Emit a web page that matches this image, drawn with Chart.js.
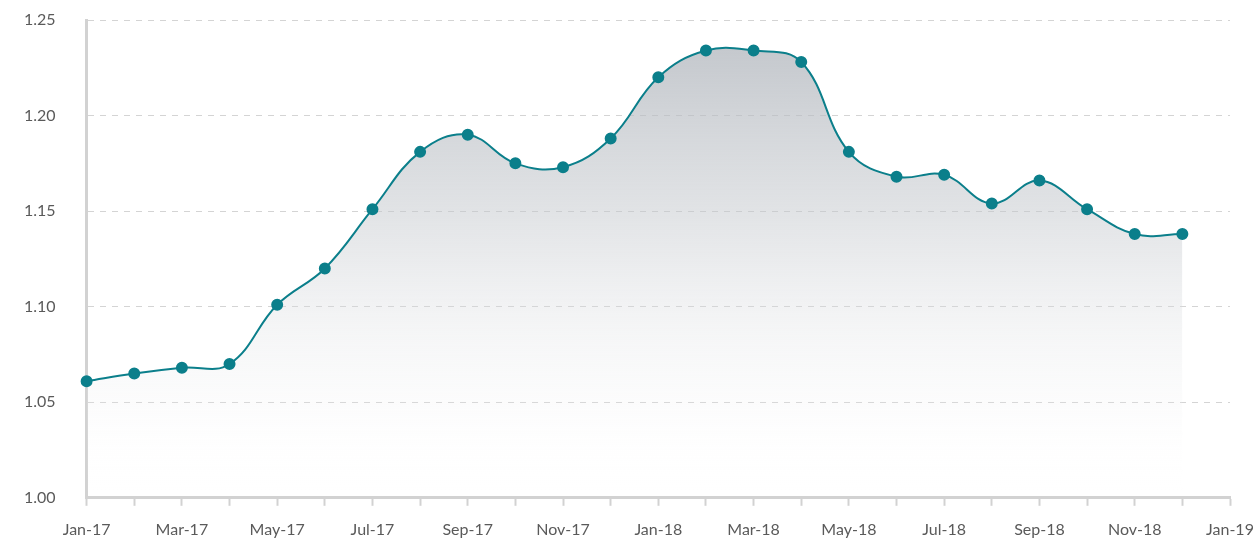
<!DOCTYPE html>
<html>
<head>
<meta charset="utf-8">
<script src="https://cdn.jsdelivr.net/npm/chart.js@4/dist/chart.umd.min.js"></script>
<style>
    html, body { margin: 0; padding: 0; background: #fff; overflow: hidden; }
    #wrap { position: relative; width: 1255px; height: 553px; }
</style>
</head>
<body>
<div id="wrap"><canvas id="grafico"></canvas></div>
<script>
// month labels (Jan-17 .. Jan-19), only every second one is printed
const meses = ['Jan-17', 'Feb-17', 'Mar-17', 'Apr-17', 'May-17', 'Jun-17', 'Jul-17', 'Aug-17',
    'Sep-17', 'Oct-17', 'Nov-17', 'Dec-17', 'Jan-18', 'Feb-18', 'Mar-18', 'Apr-18', 'May-18',
    'Jun-18', 'Jul-18', 'Aug-18', 'Sep-18', 'Oct-18', 'Nov-18', 'Dec-18', 'Jan-19'];

const valores = [1.061, 1.065, 1.068, 1.070, 1.101, 1.120, 1.151, 1.181, 1.190, 1.175, 1.173, 1.188,
    1.220, 1.234, 1.234, 1.228, 1.181, 1.168, 1.169, 1.154, 1.166, 1.151, 1.138, 1.138];

const yTicks = [1.00, 1.05, 1.10, 1.15, 1.20, 1.25];

const teal = '#0b7f8b';
const eixo = '#d2d2d2';

document.addEventListener('DOMContentLoaded', function () {
    const ctx = document.getElementById('grafico').getContext('2d');

    new Chart(ctx, {
        type: 'line',
        data: {
            labels: meses,
            datasets: [{
                data: valores,
                borderColor: teal,
                borderWidth: 2,
                pointBackgroundColor: teal,
                pointBorderColor: teal,
                pointRadius: 5,
                tension: 0.4,
                fill: 'start',
                backgroundColor: function (context) {
                    const area = context.chart.chartArea;
                    if (!area) return 'rgba(190,195,200,0.5)';
                    const g = context.chart.ctx.createLinearGradient(0, area.top, 0, area.bottom);
                    g.addColorStop(0, 'rgba(175,180,187,0.8)');
                    g.addColorStop(0.4, 'rgba(195,199,204,0.5)');
                    g.addColorStop(1, 'rgba(255,255,255,0)');
                    return g;
                }
            }]
        },
        options: {
            responsive: true,
            maintainAspectRatio: false,
            animation: false,
            layout: { padding: { top: 0, right: 0, left: -7, bottom: 0 } },
            plugins: {
                legend: { display: false },
                tooltip: { enabled: false }
            },
            scales: {
                x: {
                    offset: false,
                    border: { color: eixo, width: 3 },
                    grid: {
                        drawOnChartArea: false,
                        drawTicks: true,
                        tickLength: 8,
                        tickWidth: 2,
                        color: eixo
                    },
                    afterFit: function (axis) {
                        axis.paddingLeft = 0;
                        axis.paddingRight = 25;
                    },
                    ticks: {
                        autoSkip: false,
                        maxRotation: 0,
                        padding: 14,
                        color: '#5a5a5a',
                        font: { family: 'Lato', size: 16 },
                        callback: function (value, index) {
                            return index % 2 === 0 ? meses[index] : '';
                        }
                    }
                },
                y: {
                    min: 1.0,
                    max: 1.25,
                    border: { color: eixo, width: 3, dash: [6, 6] },
                    grid: {
                        drawTicks: false,
                        color: function (c) { return c.tick.value === 1.0 ? 'rgba(0,0,0,0)' : '#d4d4d4'; },
                        lineWidth: 1
                    },
                    afterBuildTicks: function (axis) {
                        axis.ticks = yTicks.map(v => ({ value: v }));
                    },
                    afterFit: function (axis) {
                        axis.paddingTop = 20;
                        axis.paddingBottom = 10;
                    },
                    ticks: {
                        padding: 31,
                        color: '#5a5a5a',
                        font: { family: 'Lato', size: 16 },
                        callback: function (value) { return value.toFixed(2); }
                    }
                }
            }
        }
    });
});
</script>
</body>
</html>
